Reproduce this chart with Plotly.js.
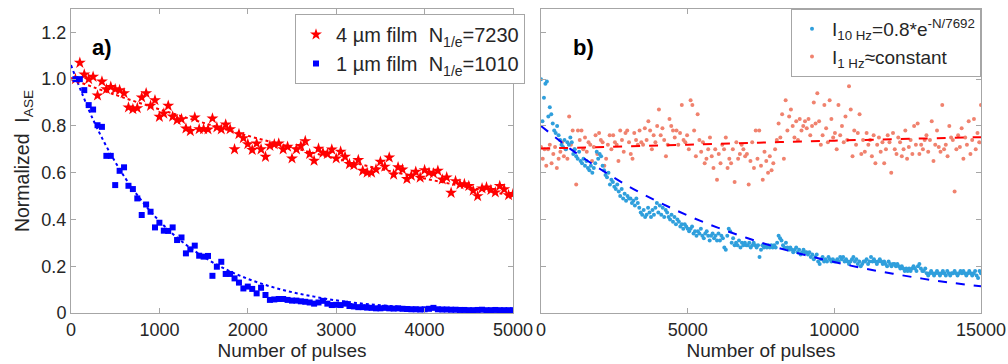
<!DOCTYPE html>
<html><head><meta charset="utf-8">
<script src="https://cdn.plot.ly/plotly-3.0.1.min.js"></script>
<style>html,body{margin:0;padding:0;background:#fff}</style>
</head><body><div id="chart" style="width:1008px;height:364px"></div>
<script>
// ---- panel a) : normalized ASE vs number of pulses (samples every 50 pulses, starting at 50)
const filmStart = 50, filmStep = 50;
const film4um = [1.0,1.07,1.02,1.0,1.01,0.93,0.99,0.957,0.967,0.957,0.953,0.94,0.879,0.872,0.876,0.922,0.94,0.886,0.91,0.839,
0.853,0.886,0.84,0.825,0.829,0.789,0.778,0.836,0.786,0.786,0.785,0.832,0.794,0.785,0.806,0.786,0.70,0.765,0.748,0.722,
0.697,0.725,0.70,0.668,0.715,0.721,0.725,0.70,0.711,0.661,0.70,0.714,0.735,0.68,0.651,0.703,0.685,0.68,0.699,0.661,
0.69,0.668,0.637,0.632,0.654,0.608,0.60,0.60,0.614,0.647,0.626,0.665,0.592,0.623,0.614,0.573,0.587,0.604,0.579,0.611,
0.60,0.597,0.608,0.571,0.58,0.514,0.564,0.55,0.551,0.543,0.523,0.50,0.533,0.537,0.526,0.516,0.543,0.529,0.504,0.509];
const film1um = [1.0,1.0,0.953,0.889,0.87,0.803,0.796,0.672,0.672,0.547,0.608,0.623,0.544,0.53,0.49,0.419,0.464,0.433,0.366,0.386,
0.352,0.351,0.366,0.312,0.323,0.255,0.272,0.288,0.245,0.241,0.244,0.159,0.198,0.219,0.167,0.167,0.148,0.13,0.105,0.113,
0.103,0.084,0.108,0.077,0.056,0.058,0.06,0.06,0.056,0.053,0.053,0.05,0.048,0.045,0.04,0.045,0.052,0.04,0.034,0.035,
0.034,0.04,0.03,0.028,0.025,0.025,0.023,0.022,0.02,0.02,0.022,0.02,0.019,0.02,0.018,0.017,0.016,0.016,0.015,0.016,
0.018,0.022,0.016,0.015,0.015,0.014,0.014,0.013,0.013,0.012,0.012,0.013,0.014,0.012,0.012,0.013,0.012,0.012,0.012,0.012];
// fitted curves
const fit4umX = [0,500,1000,1500,2000,2500,3000,3500,4000,4500,5000];
const fit4umY = [1.0,0.933,0.871,0.813,0.758,0.708,0.660,0.616,0.575,0.537,0.501];
const fit1umX = [0,250,500,750,1000,1250,1500,1750,2000,2250,2500,2750,3000,3250,3500,3750,4000,4250,4500,4750,5000];
const fit1umY = [1.06,0.827,0.646,0.504,0.393,0.307,0.240,0.187,0.146,0.114,0.089,0.070,0.054,0.042,0.033,0.026,0.020,0.016,0.012,0.010,0.008];

// ---- panel b) : 10 Hz (every 50 pulses) and 1 Hz (every 60 pulses)
const hz10Step = 50;
const hz10 = [1.0,0.82,0.92,0.98,0.99,0.84,0.88,0.85,0.81,0.78,0.77,0.80,0.76,0.74,0.72,0.71,0.74,0.70,0.73,0.72,0.75,
0.73,0.68,0.70,0.67,0.66,0.69,0.65,0.64,0.66,0.63,0.65,0.62,0.61,0.63,0.60,0.62,0.64,0.69,0.66,0.68,
0.67,0.63,0.61,0.59,0.58,0.60,0.55,0.57,0.56,0.54,0.53,0.55,0.52,0.50,0.53,0.49,0.51,0.48,0.50,0.49,
0.49,0.47,0.48,0.46,0.49,0.47,0.45,0.43,0.42,0.44,0.41,0.42,0.45,0.43,0.41,0.44,0.42,0.45,0.47,0.43,
0.46,0.42,0.45,0.41,0.44,0.43,0.41,0.40,0.42,0.39,0.41,0.38,0.40,0.39,0.37,0.38,0.36,0.38,0.37,0.36,
0.35,0.36,0.37,0.34,0.35,0.33,0.35,0.34,0.36,0.33,0.32,0.34,0.35,0.33,0.31,0.33,0.34,0.32,0.33,0.31,
0.34,0.31,0.33,0.32,0.28,0.27,0.33,0.36,0.35,0.30,0.32,0.29,0.30,0.29,0.31,0.28,0.30,0.29,0.30,0.29,
0.29,0.30,0.28,0.29,0.30,0.29,0.28,0.29,0.24,0.27,0.29,0.28,0.29,0.28,0.29,0.28,0.29,0.28,0.29,0.28,
0.30,0.33,0.32,0.31,0.29,0.28,0.30,0.28,0.27,0.28,0.27,0.26,0.27,0.28,0.26,0.27,0.25,0.26,0.27,0.26,
0.26,0.25,0.26,0.24,0.25,0.23,0.24,0.25,0.22,0.21,0.23,0.24,0.22,0.23,0.22,0.24,0.23,0.22,0.23,0.22,
0.22,0.23,0.22,0.24,0.23,0.24,0.22,0.23,0.22,0.21,0.22,0.23,0.24,0.22,0.23,0.21,0.22,0.20,0.21,0.22,
0.22,0.23,0.21,0.22,0.24,0.22,0.23,0.22,0.21,0.22,0.23,0.22,0.21,0.22,0.21,0.20,0.22,0.21,0.20,0.21,
0.21,0.20,0.21,0.20,0.19,0.20,0.19,0.18,0.19,0.18,0.19,0.18,0.19,0.20,0.19,0.18,0.20,0.21,0.19,0.18,
0.18,0.19,0.17,0.16,0.17,0.18,0.17,0.16,0.17,0.18,0.17,0.16,0.17,0.18,0.17,0.16,0.18,0.17,0.16,0.17,
0.17,0.18,0.17,0.16,0.17,0.18,0.17,0.18,0.17,0.16,0.17,0.18,0.17,0.16,0.17,0.18,0.16,0.15,0.18,0.17];
const hz1Step = 60;
const hz1 = [0.71,0.66,0.70,0.63,0.70,0.72,0.64,0.68,0.71,0.62,0.66,0.69,0.73,0.67,0.70,0.66,0.84,0.72,0.78,0.70,0.55,0.78,0.74,0.78,0.70,
0.75,0.69,0.73,0.72,0.65,0.71,0.76,0.68,0.77,0.74,0.73,0.63,0.66,0.72,0.76,0.70,0.76,0.73,0.72,0.65,0.78,0.74,0.69,0.77,0.78,
0.73,0.68,0.66,0.77,0.74,0.72,0.78,0.73,0.72,0.79,0.74,0.82,0.78,0.70,0.76,0.73,0.80,0.87,0.76,0.79,0.74,0.67,0.72,0.83,0.80,
0.78,0.75,0.78,0.72,0.77,0.89,0.74,0.73,0.76,0.70,0.91,0.89,0.78,0.67,0.85,0.74,0.69,0.73,0.64,0.66,0.70,0.75,0.67,0.62,0.70,
0.57,0.68,0.64,0.72,0.70,0.75,0.62,0.66,0.64,0.70,0.56,0.73,0.66,0.68,0.72,0.70,0.67,0.68,0.55,0.65,0.73,0.62,0.78,0.66,0.78,
0.63,0.57,0.69,0.65,0.60,0.67,0.61,0.64,0.70,0.74,0.81,0.75,0.85,0.66,0.91,0.78,0.84,0.87,0.80,0.75,0.82,0.74,0.83,0.78,0.80,
0.82,0.79,0.83,0.76,0.80,0.90,0.81,0.94,0.82,0.72,0.76,0.89,0.79,0.73,0.91,0.83,0.75,0.77,0.70,0.89,0.76,0.80,0.73,0.84,0.74,
0.97,0.87,0.67,0.78,0.72,0.77,0.85,0.68,0.74,0.69,0.77,0.72,0.74,0.67,0.76,0.64,0.72,0.75,0.69,0.73,0.64,0.70,0.76,0.73,0.60,
0.77,0.70,0.68,0.75,0.73,0.67,0.70,0.78,0.66,0.71,0.74,0.68,0.80,0.72,0.81,0.68,0.72,0.70,0.74,0.76,0.69,0.74,0.82,0.65,0.72,
0.78,0.71,0.69,0.89,0.70,0.72,0.67,0.80,0.75,0.74,0.52,0.70,0.76,0.71,0.79,0.66,0.75,0.72,0.82,0.68,0.74,0.83,0.70,0.77,0.73,
0.89];
const fit10X = [0,1000,2000,3000,4000,5000,6000,7000,8000,9000,10000,11000,12000,13000,14000,15000];
const fit10Y = [0.8,0.702,0.617,0.541,0.475,0.417,0.366,0.322,0.282,0.248,0.218,0.191,0.168,0.147,0.129,0.114];
const fit1X = [0,5000,10000,15000];
const fit1Y = [0.703,0.72,0.737,0.752];

const yTicks = [0,0.2,0.4,0.6,0.8,1.0,1.2];
const yTickText = ['0','0.2','0.4','0.6','0.8','1.0','1.2'];
const xTicksA = [0,1000,2000,3000,4000,5000];
const xTicksB = [0,5000,10000,15000];
const xTickTextB = ['0','5000','10000','15000'];

const FONT = 'Arial, "Liberation Sans", sans-serif';
const AX = '#a6a6a6', TXT = '#262626';
const NB = '\u00a0';

const traces = [
  {x: fit4umX, y: fit4umY, mode:'lines', line:{color:'#ff0000', dash:'dot', width:2, shape:'spline'}, showlegend:false, xaxis:'x', yaxis:'y', hoverinfo:'skip'},
  {x: fit1umX, y: fit1umY, mode:'lines', line:{color:'#0000ff', dash:'dot', width:2, shape:'spline'}, showlegend:false, xaxis:'x', yaxis:'y', hoverinfo:'skip'},
  {x0: filmStart, dx: filmStep, y: film4um, type:'scatter', mode:'markers', name:'4 µm film'+NB+NB+'N<sub>1/e</sub>=7230',
   marker:{symbol:'star', size:9, color:'#ff0000'}, xaxis:'x', yaxis:'y', legend:'legend'},
  {x0: filmStart, dx: filmStep, y: film1um, type:'scatter', mode:'markers', name:'1 µm film'+NB+NB+'N<sub>1/e</sub>=1010',
   marker:{symbol:'square', size:6, color:'#0000ff'}, xaxis:'x', yaxis:'y', legend:'legend'},
  {x0: 0, dx: hz1Step, y: hz1, type:'scatter', mode:'markers', name:'I<sub>1 Hz</sub>≈constant',
   marker:{size:4, color:'#f0826e'}, xaxis:'x2', yaxis:'y2', legend:'legend2', legendrank:2},
  {x0: 0, dx: hz10Step, y: hz10, type:'scatter', mode:'markers', name:'I<sub>10 Hz</sub>=0.8*e<sup>-N/7692</sup>',
   marker:{size:4, color:'#2f9fdc'}, xaxis:'x2', yaxis:'y2', legend:'legend2', legendrank:1},
  {x: fit10X, y: fit10Y, mode:'lines', line:{color:'#0000ff', dash:'dash', width:2, shape:'spline'}, showlegend:false, xaxis:'x2', yaxis:'y2', hoverinfo:'skip'},
  {x: fit1X, y: fit1Y, mode:'lines', line:{color:'#ff0000', dash:'dash', width:2, shape:'spline'}, showlegend:false, xaxis:'x2', yaxis:'y2', hoverinfo:'skip'}
];

const axisCommon = {showline:true, linecolor:AX, linewidth:1, mirror:'ticks', ticks:'inside', ticklen:5, tickcolor:AX,
  showgrid:false, zeroline:false, tickfont:{family:FONT, size:18, color:TXT}};

const layout = {
  width:1008, height:364,
  margin:{l:71, r:27, t:9, b:51},
  paper_bgcolor:'#fff', plot_bgcolor:'#fff',
  font:{family:FONT, color:TXT},
  xaxis: Object.assign({}, axisCommon, {domain:[0, 442/910], range:[0,5000], tickvals:xTicksA,
    title:{text:'Number of pulses', font:{family:FONT, size:19, color:TXT}, standoff:2}}),
  yaxis: Object.assign({}, axisCommon, {domain:[0,1], range:[0,1.3], tickvals:yTicks, ticktext:yTickText,
    title:{text:'Normalized'+NB+NB+'I<sub>ASE</sub>', font:{family:FONT, size:19.5, color:TXT}, standoff:6}}),
  xaxis2: Object.assign({}, axisCommon, {domain:[470/910, 1], range:[0,15000], tickvals:xTicksB, ticktext:xTickTextB, anchor:'y2',
    title:{text:'Number of pulses', font:{family:FONT, size:19, color:TXT}, standoff:2}}),
  yaxis2: Object.assign({}, axisCommon, {domain:[0,1], range:[0,1.3], tickvals:yTicks, showticklabels:false, anchor:'x2'}),
  legend:{x:(295-71)/910, y:1-5/304, yanchor:'top', xanchor:'left', bgcolor:'#fff', bordercolor:AX, borderwidth:1,
    font:{family:FONT, size:20, color:TXT}, itemwidth:30, tracegroupgap:0},
  legend2:{x:1, y:1, yanchor:'top', xanchor:'right', bgcolor:'#fff', bordercolor:AX, borderwidth:1,
    font:{family:FONT, size:19, color:TXT}, itemwidth:30, traceorder:'normal'},
  annotations:[
    {xref:'x domain', yref:'y domain', x:0.043, y:0.921, text:'<b>a)</b>', showarrow:false, font:{family:FONT, size:22, color:'#000'}},
    {xref:'x2 domain', yref:'y2 domain', x:0.068, y:0.921, text:'<b>b)</b>', showarrow:false, font:{family:FONT, size:22, color:'#000'}}
  ],
  showlegend:true
};

Plotly.newPlot('chart', traces, layout, {displayModeBar:false, staticPlot:true});
</script>
</body></html>
